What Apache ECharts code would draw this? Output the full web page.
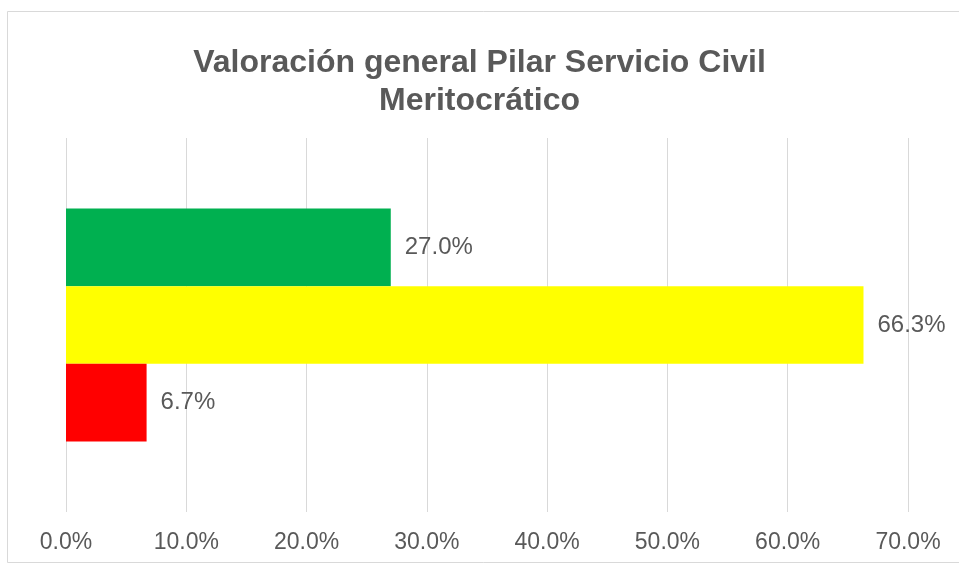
<!DOCTYPE html>
<html>
<head>
<meta charset="utf-8">
<script src="https://cdn.jsdelivr.net/npm/echarts@6/dist/echarts.min.js"></script>
<style>
  html, body { margin: 0; padding: 0; background: #fff; }
  #chart { width: 959px; height: 566px; }
</style>
</head>
<body>
<div id="chart"></div>
<script>
// values (percent)
const seriesNames = ['Alto', 'Medio', 'Bajo'];
const seriesValues = [27.0, 66.3, 6.7];
const seriesColors = ['#00b050', '#ffff00', '#ff0000'];
const categories = [''];

let myChart = echarts.init(document.getElementById('chart'));

let series = seriesNames.map(function (name, i) {
    return {
        name: name,
        type: 'bar',
        data: [seriesValues[i]],
        barGap: 0,
        barCategoryGap: '37.7%',
        itemStyle: { color: seriesColors[i] },
        label: {
            show: true,
            position: 'right',
            distance: 14,
            color: '#595959',
            fontFamily: 'Liberation Sans',
            fontSize: 24,
            formatter: function (p) { return p.value.toFixed(1) + '%'; }
        }
    };
});

let option = {
    backgroundColor: '#fff',
    animation: false,
    title: {
        text: 'Valoración general Pilar Servicio Civil\nMeritocrático',
        left: 'center',
        top: 44,
        padding: 0,
        textStyle: {
            color: '#595959',
            fontFamily: 'Liberation Sans',
            fontWeight: 'bold',
            fontSize: 32,
            lineHeight: 38
        }
    },
    graphic: [{
        type: 'rect',
        shape: { x: 7.5, y: 11.5, width: 1000, height: 551 },
        style: { fill: 'none', stroke: '#d9d9d9', lineWidth: 1 },
        silent: true
    }],
    grid: {
        left: 66,
        right: 51,
        top: 138,
        bottom: 54
    },
    xAxis: {
        type: 'value',
        min: 0,
        max: 70,
        interval: 10,
        axisLine: { show: false },
        axisTick: { show: false },
        splitLine: { lineStyle: { color: '#d9d9d9', width: 1 } },
        axisLabel: {
            margin: 19,
            color: '#595959',
            fontFamily: 'Liberation Sans',
            fontSize: 23,
            formatter: function (v) { return v.toFixed(1) + '%'; }
        }
    },
    yAxis: {
        type: 'category',
        data: categories,
        show: false
    },
    series: series
};

myChart.setOption(option);
</script>
</body>
</html>
